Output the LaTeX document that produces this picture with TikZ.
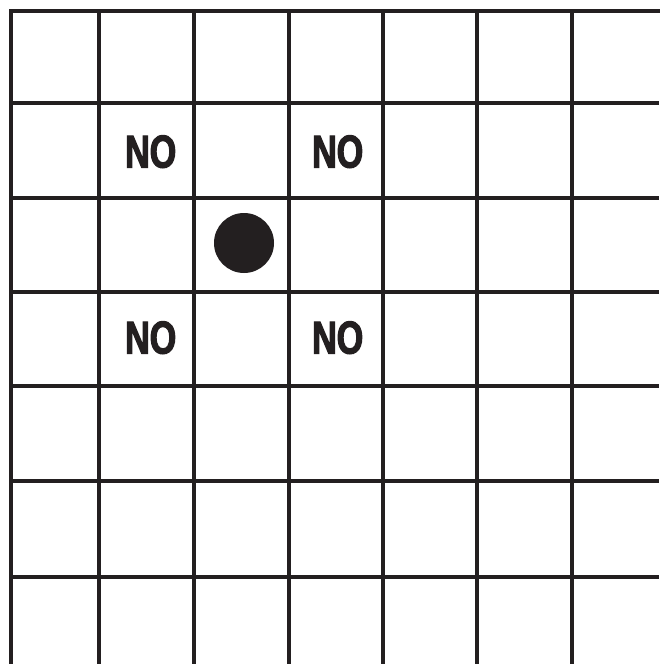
\documentclass[tikz,border=0pt]{standalone}
\usepackage{fontspec}
\newfontfamily\nofont[FakeStretch=0.74,FakeBold=2.5]{Liberation Sans Bold}
\definecolor{ink}{HTML}{231F20}
\begin{document}
\begin{tikzpicture}[x=1pt,y=-1pt,
  gridline/.style={draw=ink,line width=4.6pt},
  nolabel/.style={inner sep=0pt,text=ink,font=\nofont\fontsize{46}{46}\selectfont,text height=33pt,text depth=0pt},
  stone/.style={circle,fill=ink,minimum size=60pt,inner sep=0pt}]
\useasboundingbox (0,0) rectangle (659,664);
\fill[white] (0,0) rectangle (659,664);
% outer top and left edges
\draw[gridline,line join=miter,line cap=rect] (11,664) -- (11,11) -- (659,11);
% vertical lines
\foreach \x in {99,194,289,383,477,572}
  \draw[gridline] (\x,11) -- (\x,664);
% horizontal lines
\foreach \y in {103,198,292,386,481,577}
  \draw[gridline] (11,\y) -- (659,\y);
\node[stone] (st) at (244,243) {};
\node[nolabel] (n1) at (150.7,151) {NO};
\node[nolabel] (n2) at (337.7,151) {NO};
\node[nolabel] (n3) at (150.7,337) {NO};
\node[nolabel] (n4) at (337.7,337) {NO};
\end{tikzpicture}
\end{document}
